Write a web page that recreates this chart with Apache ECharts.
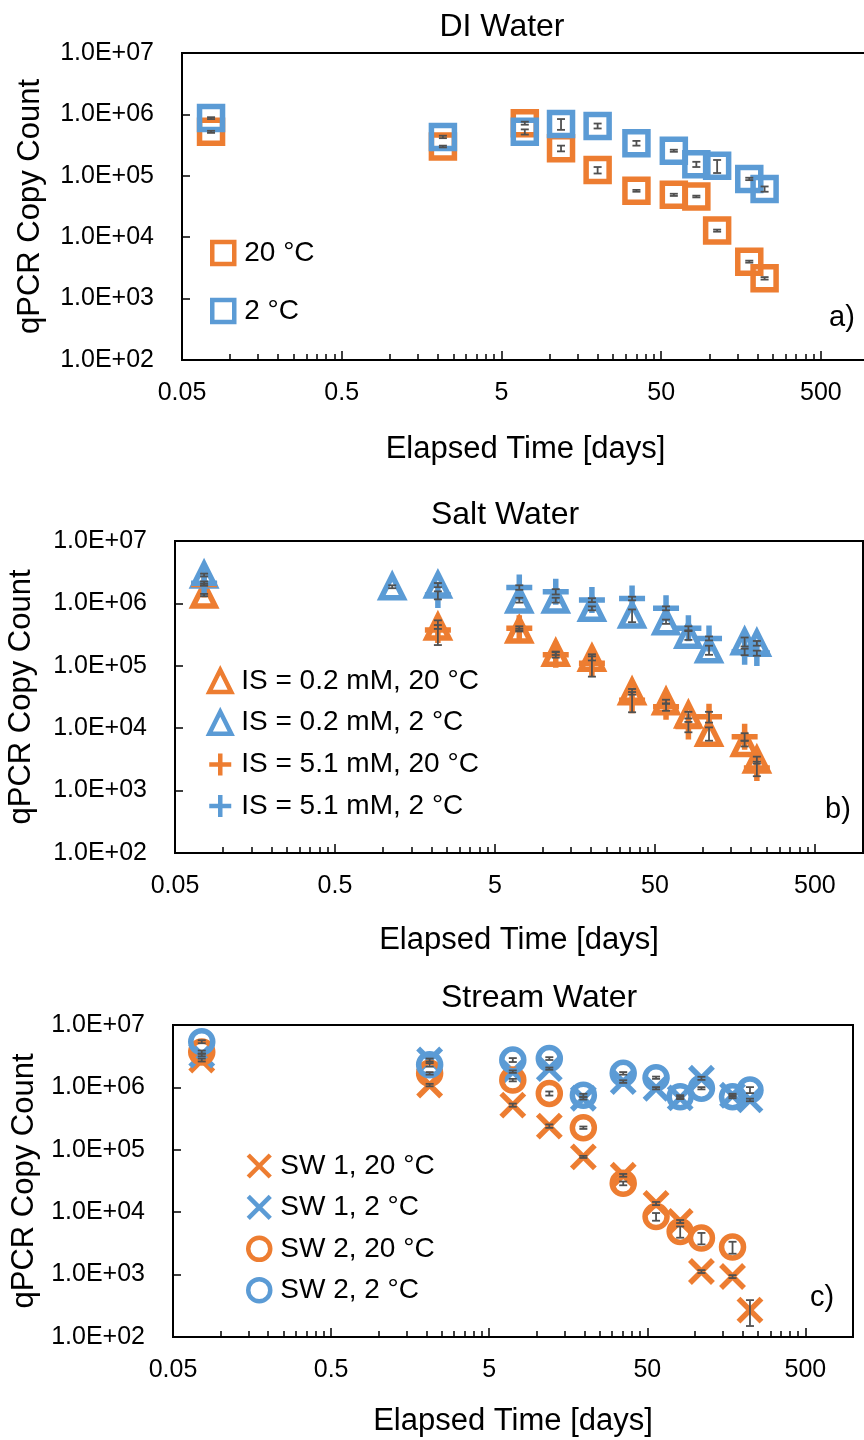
<!DOCTYPE html>
<html>
<head>
<meta charset="utf-8">
<script src="https://cdn.jsdelivr.net/npm/echarts@6/dist/echarts.min.js"></script>
<style>
  html, body { margin: 0; padding: 0; background: #fff; }
  #chart { width: 864px; height: 1440px; }
</style>
</head>
<body>
<div id="chart"></div>
<script>
// ---- data ----
// a) DI water
const diDays = [0.076, 2.15, 7.0, 11.8, 20, 35, 60, 83, 112, 178, 222];
const di20 = [5.2e5, 3.0e5, 7.2e5, 2.8e5, 1.24e5, 5.7e4, 4.9e4, 4.6e4, 1.28e4, 4.0e3, 2.14e3];
const di20Err = [2e4, 1e4, 4e4, 3e4, 1.5e4, 2e3, 2e3, 1.5e3, 5e2, 1.5e2, 1e2];
const di2 = [8.7e5, 4.3e5, 5.2e5, 7.0e5, 6.5e5, 3.4e5, 2.56e5, 1.54e5, 1.46e5, 8.9e4, 6.1e4];
const di2Err = [3e4, 2e4, 5e4, 1.4e5, 6e4, 3e4, 1e4, 1.5e4, 3.5e4, 4e3, 6e3];

// b) salt water
const saltDays = [0.076, 1.14, 2.2, 7.1, 12, 20.2, 36, 58.7, 81, 109, 182, 217];
const is02At20 = [1.36e6, null, 4.2e5, 3.75e5, 1.59e5, 1.32e5, 3.85e4, 2.66e4, 1.63e4, 8.3e3, 5.7e3, 3.1e3];
const is02At20Err = [6e4, null, 3e4, 2e4, 1e4, 1e4, 4e3, 2e3, 2e3, 2e3, 6e2, 4e2];
const is02At2 = [2.85e6, 1.85e6, 1.97e6, 1.13e6, 1.13e6, 8.35e5, 6.5e5, 5.1e5, 3.1e5, 1.8e5, 2.44e5, 2.3e5];
const is02At2Err = [1.5e5, 1e5, 1.5e5, 1e5, 1e5, 6e4, 1.5e5, 4e4, 5e4, 3e4, 4e4, 2e4];
const is51At20 = [2.0e6, null, 3.75e5, 4.0e5, 1.5e5, 1.1e5, 2.8e4, 2.2e4, 1.06e4, 1.53e4, 7.3e3, 2.3e3];
const is51At20Err = [8e4, null, 1.6e5, 3e4, 1.5e4, 4.3e4, 1e4, 3e3, 2e3, 3e3, 1e3, 6e2];
const is51At2 = [2.1e6, null, 1.36e6, 1.8e6, 1.54e6, 1.13e6, 1.2e6, 8.35e5, 4.0e5, 2.75e5, 1.68e5, 1.6e5];
const is51At2Err = [1.5e5, null, 2e5, 1.5e5, 1.5e5, 8e4, 8e4, 6e4, 3e4, 2e4, 2e4, 1.5e4];

// c) stream water
const streamDays = [0.076, 2.1, 7.05, 12, 19.7, 35.2, 56.8, 80.7, 110, 173, 223];
const sw1At20 = [2.75e6, 1.09e6, 5.2e5, 2.4e5, 7.7e4, 3.9e4, 1.38e4, 7.1e3, 1.12e3, 9.3e2, 2.7e2];
const sw1At20Err = [1.5e5, 5e4, 3e4, 1.5e4, 3e3, 2e3, 8e2, 4e2, 6e1, 5e1, 1.2e2];
const sw1At2 = [3.3e6, 2.75e6, 1.79e6, 2.0e6, 6.7e5, 1.24e6, 9.7e5, 6.8e5, 1.4e6, 7.5e5, 6.3e5];
const sw1At2Err = [1.5e5, 1.5e5, 8e4, 8e4, 3e4, 6e4, 4e4, 3e4, 8e4, 4e4, 3e4];
const sw2At20 = [3.7e6, 1.68e6, 1.31e6, 8.0e5, 2.26e5, 2.9e4, 8.5e3, 4.9e3, 3.85e3, 2.76e3, null];
const sw2At20Err = [2e5, 8e4, 6e4, 6e4, 1e4, 2e3, 1.2e3, 1e3, 8e2, 6e2, null];
const sw2At2 = [5.4e6, 2.3e6, 2.75e6, 2.9e6, 7.5e5, 1.68e6, 1.43e6, 7.1e5, 9.7e5, 7.1e5, 9.1e5];
const sw2At2Err = [3e5, 1.5e5, 2e5, 1.5e5, 4e4, 8e4, 6e4, 4e4, 4e4, 4e4, 1e5];

// axis ticks
const xMajorTicks = [0.05, 0.5, 5, 50, 500];
const yTicks = [1e2, 1e3, 1e4, 1e5, 1e6, 1e7];

// ---- styling ----
const FONT = '"Liberation Sans", Arial, sans-serif';
const ORANGE = '#ED7D31';
const BLUE = '#5B9BD5';
const PLUS = 'path://M0,-1L0,1M-1,0L1,0';
const CROSS = 'path://M-1,-1L1,1M-1,1L1,-1';

const xMinorTicks = [];
xMajorTicks.forEach((m) => {
  for (let k = 2; k <= 9; k++) if (m * k < 1000) xMinorTicks.push(+(m * k).toPrecision(3));
});

const panels = [
  { title: 'DI Water', tx: 502, ty: 27, tag: 'a)', gx: 842, gy: 318,
    grid: { left: 182, top: 53, right: -5, bottom: 1080 }, xGap: 74, yGap: 136,
    legend: { left: 210, top: 239, itemGap: 30 } },
  { title: 'Salt Water', tx: 505, ty: 515, tag: 'b)', gx: 838, gy: 810,
    grid: { left: 175, top: 541, right: 1, bottom: 587 }, xGap: 72, yGap: 138,
    legend: { left: 207, top: 667, itemGap: 13.7 } },
  { title: 'Stream Water', tx: 539, ty: 998, tag: 'c)', gx: 822, gy: 1298,
    grid: { left: 173, top: 1025, right: 11, bottom: 103 }, xGap: 69, yGap: 131,
    legend: { left: 246, top: 1152, itemGap: 13.4 } },
];

function pairs(xs, ys, es) {
  const out = [];
  xs.forEach((x, i) => {
    if (ys[i] == null) return;
    out.push(es ? [x, ys[i], es[i]] : [x, ys[i]]);
  });
  return out;
}

function scatter(name, panel, xs, ys, symbol, size, color) {
  return {
    name, type: 'scatter', xAxisIndex: panel, yAxisIndex: panel,
    symbol, symbolSize: size, symbolKeepAspect: true,
    itemStyle: { color: 'transparent', borderColor: color, borderWidth: 5.5, opacity: 1 },
    data: pairs(xs, ys), silent: true, z: 2,
  };
}

function errBars(panel, xs, ys, es) {
  return {
    type: 'custom', xAxisIndex: panel, yAxisIndex: panel, silent: true, z: 3,
    data: pairs(xs, ys, es),
    renderItem(params, api) {
      const x = api.value(0), y = api.value(1), e = api.value(2);
      const hi = api.coord([x, y + e]);
      const lo = api.coord([x, Math.max(y - e, 1)]);
      const st = { stroke: '#505050', lineWidth: 1.8 };
      return {
        type: 'group',
        children: [
          { type: 'line', shape: { x1: hi[0], y1: hi[1], x2: lo[0], y2: lo[1] }, style: st },
          { type: 'line', shape: { x1: hi[0] - 4, y1: hi[1], x2: hi[0] + 4, y2: hi[1] }, style: st },
          { type: 'line', shape: { x1: lo[0] - 4, y1: lo[1], x2: lo[0] + 4, y2: lo[1] }, style: st },
        ],
      };
    },
  };
}

const seriesDefs = [
  // panel, name, xs, ys, err, symbol, size, color
  [0, '20 °C', diDays, di20, di20Err, 'rect', 23, ORANGE],
  [0, '2 °C', diDays, di2, di2Err, 'rect', 23, BLUE],
  [1, 'IS = 0.2 mM, 20 °C', saltDays, is02At20, is02At20Err, 'triangle', 22, ORANGE],
  [1, 'IS = 0.2 mM, 2 °C', saltDays, is02At2, is02At2Err, 'triangle', 22, BLUE],
  [1, 'IS = 5.1 mM, 20 °C', saltDays, is51At20, is51At20Err, PLUS, 26, ORANGE],
  [1, 'IS = 5.1 mM, 2 °C', saltDays, is51At2, is51At2Err, PLUS, 26, BLUE],
  [2, 'SW 1, 20 °C', streamDays, sw1At20, sw1At20Err, CROSS, 23, ORANGE],
  [2, 'SW 1, 2 °C', streamDays, sw1At2, sw1At2Err, CROSS, 23, BLUE],
  [2, 'SW 2, 20 °C', streamDays, sw2At20, sw2At20Err, 'circle', 22, ORANGE],
  [2, 'SW 2, 2 °C', streamDays, sw2At2, sw2At2Err, 'circle', 22, BLUE],
];

const series = [];
seriesDefs.forEach(([p, name, xs, ys, es, sym, size, color]) => {
  series.push(scatter(name, p, xs, ys, sym, size, color));
});
seriesDefs.forEach(([p, name, xs, ys, es]) => {
  series.push(errBars(p, xs, ys, es));
});

const blackLine = { color: '#000', width: 2 };
const labelText = { color: '#000', fontSize: 25, fontFamily: FONT };
const nameText = { color: '#000', fontSize: 31, fontFamily: FONT };

const fmtExp = (v) => {
  const e = Math.round(Math.log10(v));
  return '1.0E+' + (e < 10 ? '0' : '') + e;
};
const fmtDays = (v) => String(parseFloat((+v).toPrecision(3)));

const xAxis = [];
const yAxis = [];
panels.forEach((p, i) => {
  xAxis[i] = {
    type: 'log', gridIndex: i, min: 0.05, max: 1000, position: 'bottom',
    axisLine: { lineStyle: blackLine },
    axisTick: { inside: true, length: 9, customValues: xMajorTicks, lineStyle: { color: '#000', width: 1.5 } },
    axisLabel: { customValues: xMajorTicks, formatter: fmtDays, margin: 21, ...labelText },
    splitLine: { show: false },
    name: 'Elapsed Time [days]', nameLocation: 'middle', nameGap: p.xGap, nameTextStyle: nameText,
  };
  // minor log ticks
  xAxis[i + 3] = {
    type: 'log', gridIndex: i, min: 0.05, max: 1000, position: 'bottom',
    axisLine: { show: false },
    axisTick: { inside: true, length: 6, customValues: xMinorTicks, lineStyle: { color: '#000', width: 1.5 } },
    axisLabel: { show: false },
    splitLine: { show: false },
  };
  yAxis[i] = {
    type: 'log', gridIndex: i, min: 100, max: 1e7, logBase: 10,
    axisLine: { show: true, lineStyle: blackLine },
    axisTick: { inside: true, length: 8, customValues: yTicks, lineStyle: { color: '#000', width: 1.5 } },
    axisLabel: { customValues: yTicks, formatter: fmtExp, margin: 28, ...labelText },
    splitLine: { show: false },
    name: 'qPCR Copy Count', nameLocation: 'middle', nameGap: p.yGap, nameTextStyle: nameText,
  };
});

const legendNames = [
  ['20 °C', '2 °C'],
  ['IS = 0.2 mM, 20 °C', 'IS = 0.2 mM, 2 °C', 'IS = 5.1 mM, 20 °C', 'IS = 5.1 mM, 2 °C'],
  ['SW 1, 20 °C', 'SW 1, 2 °C', 'SW 2, 20 °C', 'SW 2, 2 °C'],
];

const chart = echarts.init(document.getElementById('chart'));
chart.setOption({
  animation: false,
  backgroundColor: '#fff',
  grid: panels.map((p) => ({
    ...p.grid, show: true, borderColor: '#000', borderWidth: 2,
    containLabel: false, outerBoundsMode: 'none',
  })),
  xAxis,
  yAxis,
  legend: panels.map((p, i) => ({
    orient: 'vertical', left: p.legend.left, top: p.legend.top, itemGap: p.legend.itemGap,
    padding: 0, itemWidth: 22, itemHeight: 22, selectedMode: false,
    itemStyle: { borderWidth: 4.5 },
    textStyle: { color: '#000', fontSize: 28, fontFamily: FONT, padding: [0, 0, 0, 5] },
    data: legendNames[i],
  })),
  graphic: panels.flatMap((p) => [
    { type: 'text', x: p.tx, y: p.ty, silent: true,
      style: { text: p.title, fontSize: 32, fontFamily: FONT, fill: '#000', align: 'center', verticalAlign: 'middle' } },
    { type: 'text', x: p.gx, y: p.gy, silent: true,
      style: { text: p.tag, fontSize: 29, fontFamily: FONT, fill: '#000', align: 'center', verticalAlign: 'middle' } },
  ]),
  series,
});
</script>
</body>
</html>
